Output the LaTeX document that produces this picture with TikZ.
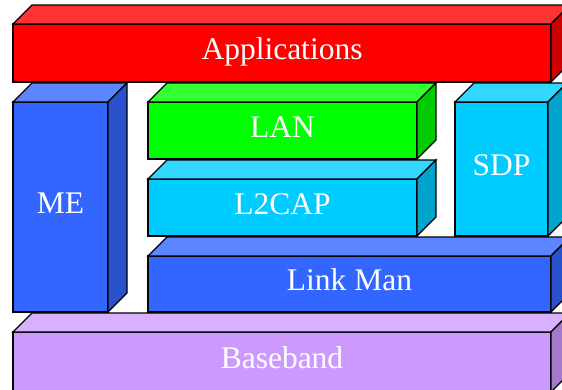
\documentclass[tikz,border=0pt]{standalone}
\usepackage{fontspec}
\setmainfont{Liberation Serif}
\usepackage{xcolor}
\definecolor{colApp}{RGB}{255,0,0}
\definecolor{colAppTop}{RGB}{255,51,51}
\definecolor{colAppSide}{RGB}{204,0,0}
\definecolor{colBlue}{RGB}{51,102,255}
\definecolor{colBlueTop}{RGB}{92,133,255}
\definecolor{colBlueSide}{RGB}{41,82,204}
\definecolor{colGreen}{RGB}{0,255,0}
\definecolor{colGreenTop}{RGB}{51,255,51}
\definecolor{colGreenSide}{RGB}{0,204,0}
\definecolor{colCyan}{RGB}{0,204,255}
\definecolor{colCyanTop}{RGB}{51,214,255}
\definecolor{colCyanSide}{RGB}{0,163,204}
\definecolor{colBase}{RGB}{204,153,255}
\definecolor{colBaseTop}{RGB}{217,176,255}
\definecolor{colBaseSide}{RGB}{163,122,204}
\usepackage{tikz}

% front face as a node, top and side faces hung off its corners
\newcommand{\layerbox}[7]{%
  \node[layer, fill=#6, minimum width=#4pt, minimum height=#5pt] (#1) at (#2,#3) {#7};
  \draw[fill=#6Top] (#1.north west) -- ++(19pt,19pt) -- ++(#4pt,0pt) -- (#1.north east) -- cycle;
  \draw[fill=#6Side] (#1.north east) -- ++(19pt,19pt) -- ++(0pt,-#5pt) -- (#1.south east) -- cycle;
}

\begin{document}
\begin{tikzpicture}[x=1pt, y=-1pt, line width=1.3pt, line join=miter,
    layer/.style={draw, anchor=north west, inner sep=0pt, outer sep=0pt,
      text=white, text height=21pt, text depth=8pt,
      font=\fontsize{31.5}{36}\selectfont}]
  \useasboundingbox (0,0) rectangle (562,389);
  \clip (0,0) rectangle (562,389);

  \layerbox{app}{13}{24}{538}{58}{colApp}{Applications}
  \layerbox{me}{13}{102}{95}{210}{colBlue}{ME}
  \layerbox{lan}{148}{102}{269}{57}{colGreen}{LAN}
  \layerbox{l2cap}{148}{179}{269}{57}{colCyan}{L2CAP}
  \layerbox{sdp}{455}{102}{93}{134}{colCyan}{SDP}
  \layerbox{lmp}{148}{256}{403}{56}{colBlue}{Link Man}
  \layerbox{base}{13}{332}{538}{60}{colBase}{Baseband}
\end{tikzpicture}
\end{document}
